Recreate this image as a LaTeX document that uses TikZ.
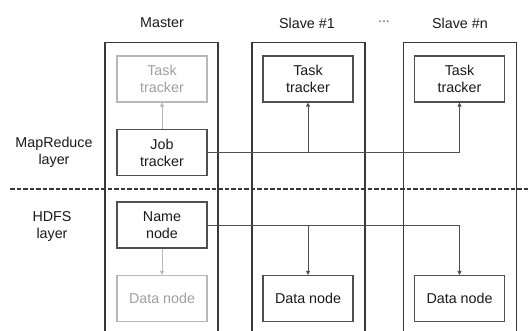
\documentclass[tikz,border=0pt]{standalone}
\usepackage{fontspec}
\setmainfont{Liberation Sans}
\usetikzlibrary{arrows.meta}
\definecolor{boxc}{HTML}{505050}
\definecolor{colc}{HTML}{383838}
\definecolor{lightc}{HTML}{B8B8B8}
\definecolor{lighttxt}{HTML}{A0A0A0}
\definecolor{txtc}{HTML}{1A1A1A}
\begin{document}
\begin{tikzpicture}[x=1pt,y=-1pt,
  font=\fontsize{14.3}{17}\selectfont,
  column/.style={draw=colc,line width=1.5pt,minimum width=113pt,minimum height=300pt,inner sep=0pt},
  comp/.style={draw=boxc,line width=1.1pt,minimum width=90pt,minimum height=46pt,align=center,text=txtc,inner sep=0pt},
  ghost/.style={comp,draw=lightc,text=lighttxt},
  conn/.style={draw=boxc,line width=0.9pt,-{Triangle[length=4pt,width=4pt]}},
  gconn/.style={conn,draw=lightc,-{Triangle[length=4pt,width=4pt,fill=lightc]}},
  lbl/.style={text=txtc,align=center,inner sep=0pt}]
\useasboundingbox (0,0) rectangle (530,331);
\fill[white] (0,0) rectangle (530,331);
\begin{scope}
\clip (0,0) rectangle (530,331);
\node[column,anchor=north] (colm) at (161.5,42) {};
\node[column,anchor=north] (col1) at (308.5,42) {};
\node[column,anchor=north] (coln) at (460,42) {};
\end{scope}
\node[lbl] (lm) at (162,23) {Master};
\node[lbl] (l1) at (307,23) {Slave \#1};
\node[lbl,text=black!60] (ld) at (384,22) {...};
\node[lbl] (ln) at (460,23) {Slave \#n};
\node[lbl] (lmr) at (54,152) {MapReduce\\layer};
\node[lbl] (lhd) at (52,226) {HDFS\\layer};
\node[ghost] (ttm) at (162,79) {Task\\tracker};
\node[comp] (jt) at (162,152.5) {Job\\tracker};
\node[comp] (nn) at (162,225) {Name\\node};
\node[ghost] (dnm) at (162,298.5) {Data node};
\node[comp] (tt1) at (308,79) {Task\\tracker};
\node[comp] (dn1) at (308,298.5) {Data node};
\node[comp] (ttn) at (459.5,79) {Task\\tracker};
\node[comp] (dnn) at (459.5,298.5) {Data node};
\coordinate (dl) at (10,189);
\coordinate (dr) at (530,189);
\draw[colc,line width=1.6pt,dash pattern=on 4.5pt off 2pt] (dl) -- (dr);
\draw[gconn] (jt) -- (ttm);
\draw[gconn] (nn) -- (dnm);
\draw[conn] (jt.east) -| (tt1.south);
\draw[conn] (jt.east) -| (ttn.south);
\draw[conn] (nn.east) -| (dn1.north);
\draw[conn] (nn.east) -| (dnn.north);
\end{tikzpicture}
\end{document}
